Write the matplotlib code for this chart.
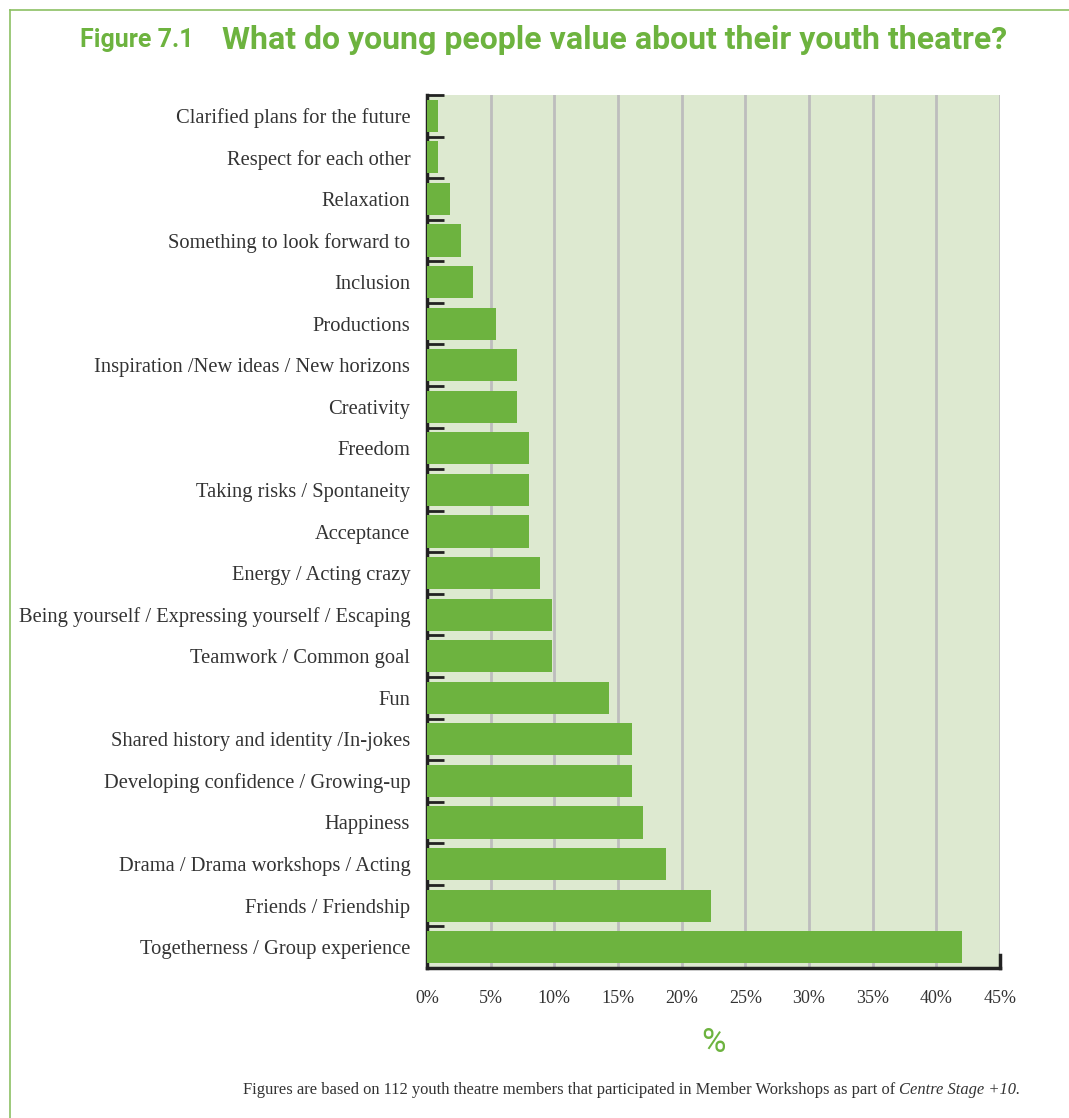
import numpy as np
import matplotlib.pyplot as plt

# categories top -> bottom as in the report
labels = [
    "Clarified plans for the future",
    "Respect for each other",
    "Relaxation",
    "Something to look forward to",
    "Inclusion",
    "Productions",
    "Inspiration /New ideas / New horizons",
    "Creativity",
    "Freedom",
    "Taking risks / Spontaneity",
    "Acceptance",
    "Energy / Acting crazy",
    "Being yourself / Expressing yourself / Escaping",
    "Teamwork / Common goal",
    "Fun",
    "Shared history and identity /In-jokes",
    "Developing confidence / Growing-up",
    "Happiness",
    "Drama / Drama workshops / Acting",
    "Friends / Friendship",
    "Togetherness / Group experience",
]
values = [0.9, 0.9, 1.8, 2.7, 3.6, 5.4, 7.1, 7.1, 8.0, 8.0, 8.0, 8.9,
          9.8, 9.8, 14.3, 16.1, 16.1, 17.0, 18.8, 22.3, 42.0]
xticks = [0, 5, 10, 15, 20, 25, 30, 35, 40, 45]

green = "#6db33f"
light = "#dde9d0"
dark = "#222222"
serif = "Liberation Serif"
narrow = ["Roboto", "DejaVu Sans"]

W, H = 1069, 1118
fig = plt.figure(figsize=(W / 100, H / 100), dpi=100)

# frame lines at top and left
fig.add_artist(plt.Line2D([10 / W, 1], [1 - 10 / H, 1 - 10 / H], color="#8cc063", lw=1.2))
fig.add_artist(plt.Line2D([10 / W, 10 / W], [0, 1 - 10 / H], color="#8cc063", lw=1.2))

ax = fig.add_axes([427 / W, 1 - 968 / H, (1000 - 427) / W, (968 - 95) / H])
ax.set_facecolor(light)

n = len(labels)
y = np.arange(n)[::-1]
ax.barh(y, values, height=0.77, color=green, zorder=3)

ax.set_xlim(0, 45)
ax.set_ylim(-0.5, n - 0.5)
ax.set_xticks(xticks)
ax.set_xticklabels([f"{t}%" for t in xticks], family=serif, fontsize=13, color="#333333")
ax.tick_params(axis="x", length=0, pad=16)
ax.grid(axis="x", color="#bdbdbd", lw=2, zorder=1)

ax.set_yticks(y)
ax.set_yticklabels(labels, family=serif, fontsize=14.8, color="#333333")
ax.tick_params(axis="y", which="major", length=0, pad=12)
ax.set_yticks(np.arange(n) + 0.5, minor=True)
ax.tick_params(axis="y", which="minor", direction="in", length=12, width=2, color=dark)

for s in ["top", "right"]:
    ax.spines[s].set_visible(False)
for s in ["left", "bottom"]:
    ax.spines[s].set_color(dark)
    ax.spines[s].set_linewidth(2.5)
ax.axvline(45, ymin=0, ymax=0.015, color=dark, lw=2.5, zorder=4, clip_on=False)

ax.set_xlabel("%", family=narrow, fontsize=24, color=green, labelpad=14)

fig.text(80 / W, 1 - 40 / H, "Figure 7.1", family=narrow, fontweight="bold",
         fontsize=18, color=green, va="center", ha="left")
fig.text(1007 / W, 1 - 40 / H, "What do young people value about their youth theatre?",
         family=narrow, fontweight="bold", fontsize=23, color=green,
         va="center", ha="right")

fig.text(899 / W, 1 - 1090 / H,
         "Figures are based on 112 youth theatre members that participated in Member Workshops as part of ",
         family=serif, fontsize=11.9, color="#333333", ha="right", va="center")
fig.text(899 / W, 1 - 1090 / H, "Centre Stage +10.", family=serif, style="italic",
         fontsize=11.9, color="#333333", ha="left", va="center")

fig.savefig("out.png", dpi=100)
